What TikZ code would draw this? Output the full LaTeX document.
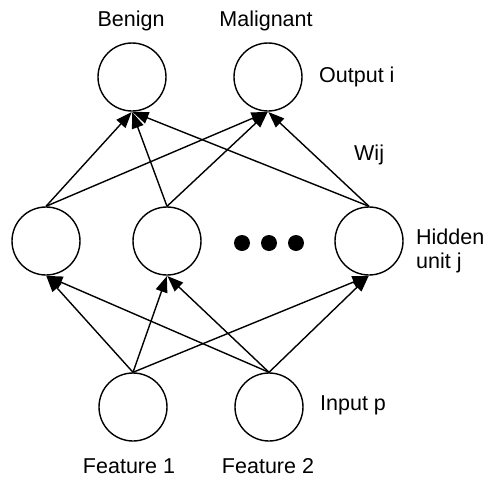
\documentclass[tikz,border=0pt]{standalone}
\usepackage{fontspec}
\setmainfont{Liberation Sans}
\usetikzlibrary{arrows.meta}
\begin{document}
\begin{tikzpicture}[x=1pt,y=-1pt,
  neuron/.style={draw,circle,line width=1.4pt,minimum size=68pt,inner sep=0pt},
  dotnode/.style={fill,circle,minimum size=16pt,inner sep=0pt},
  lbl/.style={font=\fontsize{21.5}{24}\selectfont,inner sep=0pt},
  conn/.style={line width=1.4pt,-{Triangle[length=16pt,width=12pt]},shorten >=0.5pt}]
\useasboundingbox (0,0) rectangle (483,480);
% output layer
\node[neuron] (o1) at (132,77) {};
\node[neuron] (o2) at (268,77) {};
% hidden layer
\node[neuron] (h1) at (46,241) {};
\node[neuron] (h2) at (167,241) {};
\node[neuron] (h3) at (369,241) {};
\node[dotnode] (d1) at (242,243) {};
\node[dotnode] (d2) at (269,243) {};
\node[dotnode] (d3) at (296,243) {};
% input layer
\node[neuron] (i1) at (133,407) {};
\node[neuron] (i2) at (269,407) {};
% labels
\node[lbl] (tb) at (131,21) {Benign};
\node[lbl] (tm) at (266,21) {Malignant};
\node[lbl,anchor=west] (to) at (319,77) {Output i};
\node[lbl,anchor=west] (tw) at (354,155) {Wij};
\node[lbl,anchor=west,align=left] (th) at (416,251) {Hidden\\unit j};
\node[lbl,anchor=west] (ti) at (320,405) {Input p};
\node[lbl] (tf1) at (129,466) {Feature 1};
\node[lbl] (tf2) at (268,466) {Feature 2};
% connections hidden -> output
\foreach \h in {h1,h2,h3}{
  \foreach \o in {o1,o2}{
    \draw[conn] (\h.north) -- (\o.south);
  }
}
% connections input -> hidden
\foreach \i in {i1,i2}{
  \foreach \h in {h1,h2,h3}{
    \draw[conn] (\i.north) -- (\h.south);
  }
}
\end{tikzpicture}
\end{document}
